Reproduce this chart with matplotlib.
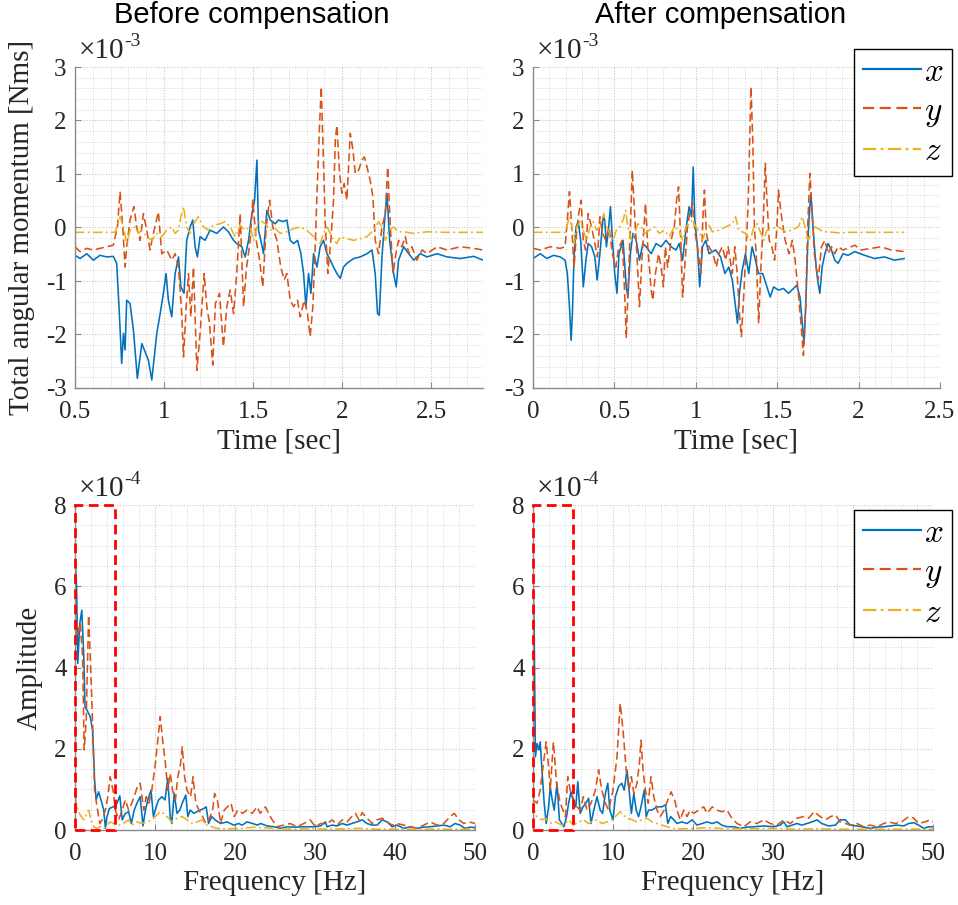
import matplotlib
matplotlib.use("Agg")
import matplotlib.pyplot as plt
from matplotlib.patches import Rectangle
from matplotlib.ticker import MultipleLocator
from matplotlib.font_manager import FontProperties

plt.rcParams['font.family'] = ['Liberation Serif', 'DejaVu Serif']
plt.rcParams['axes.unicode_minus'] = False

C_X = '#0072BD'
C_Y = '#D95319'
C_Z = '#EDB120'

# ---------------- Time histories (angular momentum, units of 1e-3 Nms) ----------------
# Before compensation
t_bx = [0.500, 0.528, 0.566, 0.603, 0.640, 0.678, 0.715, 0.734, 0.749, 0.762, 0.772, 0.781,
        0.790, 0.809, 0.828, 0.850, 0.875, 0.893, 0.912, 0.931, 0.959, 0.978, 0.996, 1.011,
        1.024, 1.043, 1.062, 1.081, 1.094, 1.112, 1.127, 1.146, 1.161, 1.174, 1.187, 1.202,
        1.230, 1.258, 1.296, 1.333, 1.361, 1.390, 1.408, 1.436, 1.455, 1.474, 1.493, 1.508,
        1.521, 1.530, 1.543, 1.558, 1.577, 1.596, 1.624, 1.642, 1.667, 1.689, 1.708, 1.727,
        1.749, 1.768, 1.783, 1.796, 1.811, 1.824, 1.839, 1.858, 1.876, 1.895, 1.914, 1.933,
        1.951, 1.970, 1.989, 2.007, 2.026, 2.064, 2.101, 2.139, 2.167, 2.185, 2.198, 2.208,
        2.223, 2.238, 2.251, 2.266, 2.288, 2.303, 2.316, 2.345, 2.373, 2.401, 2.438, 2.476,
        2.532, 2.588, 2.663, 2.738, 2.790]
h_bx = [-0.52, -0.58, -0.49, -0.61, -0.52, -0.55, -0.54, -0.67, -1.61, -2.54, -1.98, -2.29,
        -1.36, -1.42, -1.92, -2.82, -2.17, -2.32, -2.48, -2.85, -1.98, -1.61, -1.23, -0.86,
        -1.36, -1.67, -0.86, -0.55, -1.11, -1.23, -0.24, 0.01, 0.14, -0.36, -0.55, -0.17,
        -0.24, -0.05, -0.11, 0.01, -0.08, -0.24, -0.30, -0.36, -0.55, -0.24, 0.26, 0.51,
        1.26, -0.05, -0.24, -0.49, 0.32, 0.14, 0.07, 0.14, 0.11, 0.14, -0.24, -0.30,
        -0.24, -0.49, -0.86, -1.48, -0.86, -1.23, -0.49, -0.74, -0.36, -0.24, -0.49, -0.61,
        -0.74, -0.86, -0.95, -0.74, -0.67, -0.58, -0.55, -0.49, -0.42, -0.86, -1.61, -1.64,
        -0.55, 0.14, 0.64, -0.24, -0.86, -1.11, -0.61, -0.36, -0.49, -0.61, -0.49, -0.55,
        -0.49, -0.55, -0.58, -0.54, -0.61]

t_by = [0.500, 0.528, 0.566, 0.603, 0.640, 0.678, 0.715, 0.738, 0.753, 0.768, 0.781, 0.790,
        0.809, 0.831, 0.846, 0.865, 0.884, 0.906, 0.921, 0.940, 0.968, 0.987, 1.015, 1.043,
        1.062, 1.081, 1.099, 1.109, 1.124, 1.137, 1.150, 1.165, 1.184, 1.202, 1.225, 1.240,
        1.255, 1.273, 1.288, 1.311, 1.333, 1.352, 1.371, 1.390, 1.408, 1.427, 1.446, 1.461,
        1.483, 1.498, 1.517, 1.536, 1.554, 1.573, 1.592, 1.610, 1.633, 1.655, 1.674, 1.689,
        1.708, 1.727, 1.749, 1.764, 1.787, 1.805, 1.820, 1.835, 1.848, 1.861, 1.873, 1.882,
        1.891, 1.904, 1.919, 1.936, 1.951, 1.961, 1.970, 1.985, 1.998, 2.011, 2.026, 2.045,
        2.060, 2.073, 2.092, 2.110, 2.124, 2.139, 2.157, 2.172, 2.185, 2.204, 2.223, 2.242,
        2.255, 2.270, 2.285, 2.298, 2.316, 2.335, 2.354, 2.373, 2.391, 2.419, 2.448, 2.476,
        2.532, 2.588, 2.663, 2.738, 2.790]
h_by = [-0.36, -0.45, -0.39, -0.42, -0.39, -0.36, -0.33, 0.01, 0.67, 0.01, -0.74, -0.36,
        0.14, 0.39, 0.01, -0.24, 0.26, -0.11, -0.42, -0.11, 0.29, -0.49, -0.42, -0.61,
        -0.49, -0.74, -1.61, -2.42, -1.48, -0.86, -1.67, -0.74, -2.67, -1.98, -0.86, -1.48,
        -1.79, -2.57, -1.42, -1.23, -2.23, -1.48, -1.17, -1.61, -0.86, 0.26, -1.48, -0.80,
        -0.24, 0.51, -0.24, -0.61, -1.11, 0.01, 0.51, 0.01, -0.24, -0.74, -0.98, -0.86,
        -1.36, -1.48, -1.36, -1.67, -1.36, -1.61, -2.04, -1.48, -0.36, 0.88, 1.94, 2.63,
        1.63, 0.14, -0.86, -0.24, 0.51, 1.63, 1.91, 1.01, 0.64, 0.82, 0.51, 1.76,
        1.45, 1.01, 1.07, 1.26, 1.32, 1.13, 0.88, 0.57, -0.24, -0.49, 0.01, 0.26,
        1.13, 0.01, -0.86, -0.55, -0.24, -0.36, -0.17, -0.49, -0.36, -0.61, -0.42, -0.49,
        -0.36, -0.42, -0.36, -0.39, -0.42]

t_bz = [0.500, 0.725, 0.753, 0.772, 0.790, 0.809, 0.837, 0.856, 0.875, 0.903, 0.931, 0.959,
        0.987, 1.015, 1.043, 1.062, 1.081, 1.094, 1.109, 1.127, 1.146, 1.165, 1.193, 1.221,
        1.249, 1.277, 1.315, 1.343, 1.371, 1.399, 1.427, 1.455, 1.483, 1.502, 1.521, 1.539,
        1.567, 1.596, 1.624, 1.652, 1.689, 1.727, 1.764, 1.801, 1.839, 1.858, 1.876, 1.895,
        1.914, 1.933, 1.951, 1.970, 1.989, 2.026, 2.064, 2.101, 2.139, 2.176, 2.204, 2.223,
        2.242, 2.260, 2.288, 2.316, 2.345, 2.401, 2.476, 2.569, 2.790]
h_bz = [-0.09, -0.09, 0.20, 0.01, -0.30, -0.05, 0.01, -0.11, -0.05, -0.17, -0.24, -0.11,
        -0.17, -0.05, 0.01, -0.11, -0.05, 0.20, 0.39, 0.01, -0.11, 0.07, 0.20, 0.01,
        -0.05, 0.04, 0.07, 0.11, 0.01, -0.17, 0.04, -0.05, 0.01, -0.24, 0.01, 0.14,
        0.07, -0.05, -0.02, -0.11, -0.08, -0.02, 0.01, -0.05, -0.17, -0.24, -0.30, -0.11,
        0.01, -0.11, -0.24, -0.30, -0.17, -0.21, -0.24, -0.21, -0.17, -0.05, 0.11, 0.01,
        -0.24, -0.05, 0.01, -0.08, -0.08, -0.11, -0.08, -0.09, -0.09]

# After compensation
t_ax = [0.000, 0.045, 0.085, 0.126, 0.167, 0.197, 0.211, 0.224, 0.234, 0.242, 0.252, 0.264,
        0.278, 0.293, 0.309, 0.325, 0.339, 0.360, 0.380, 0.394, 0.411, 0.431, 0.441, 0.451,
        0.461, 0.476, 0.488, 0.502, 0.516, 0.528, 0.553, 0.573, 0.583, 0.598, 0.614, 0.634,
        0.654, 0.675, 0.695, 0.726, 0.756, 0.787, 0.817, 0.848, 0.878, 0.898, 0.919, 0.939,
        0.959, 0.974, 0.984, 0.994, 1.010, 1.024, 1.041, 1.061, 1.081, 1.122, 1.152, 1.179,
        1.203, 1.224, 1.244, 1.256, 1.268, 1.285, 1.305, 1.325, 1.346, 1.366, 1.386, 1.411,
        1.437, 1.457, 1.478, 1.508, 1.539, 1.569, 1.600, 1.620, 1.640, 1.654, 1.665, 1.675,
        1.687, 1.697, 1.707, 1.720, 1.732, 1.748, 1.762, 1.776, 1.793, 1.813, 1.833, 1.854,
        1.874, 1.904, 1.935, 1.976, 2.037, 2.098, 2.159, 2.220, 2.280]
h_ax = [-0.58, -0.49, -0.58, -0.52, -0.55, -0.61, -0.86, -1.48, -2.11, -1.61, -0.55, 0.01,
        0.11, -0.24, -1.11, -0.61, -0.30, -0.36, -0.55, -0.98, -0.49, 0.20, 0.14, -0.36,
        -0.11, 0.39, -0.24, -0.86, -1.23, -0.49, -0.24, -1.11, -1.30, -0.49, -0.11, -0.24,
        -0.61, -0.30, -0.36, -0.49, -0.30, -0.36, -0.24, -0.36, -0.42, -0.30, -0.61, -0.05,
        0.39, 0.20, 1.13, 0.14, -0.36, -1.11, -0.36, -0.24, -0.49, -0.42, -0.55, -0.86,
        -0.74, -0.98, -1.48, -1.79, -1.23, -0.80, -0.49, -0.86, -0.36, -0.61, -0.86, -0.86,
        -1.11, -1.30, -1.11, -1.17, -1.14, -1.23, -1.14, -1.08, -1.30, -1.79, -2.17, -1.48,
        -0.36, 0.26, 0.64, 0.01, -0.49, -0.98, -1.23, -0.74, -0.49, -0.30, -0.42, -0.61,
        -0.67, -0.49, -0.52, -0.45, -0.52, -0.58, -0.55, -0.61, -0.58]

t_ay = [0.000, 0.045, 0.106, 0.167, 0.197, 0.211, 0.224, 0.238, 0.252, 0.264, 0.278, 0.295,
        0.309, 0.323, 0.339, 0.360, 0.380, 0.396, 0.411, 0.427, 0.447, 0.467, 0.488, 0.508,
        0.528, 0.549, 0.563, 0.573, 0.583, 0.598, 0.610, 0.624, 0.638, 0.654, 0.671, 0.691,
        0.705, 0.726, 0.736, 0.752, 0.772, 0.787, 0.801, 0.813, 0.827, 0.848, 0.868, 0.882,
        0.894, 0.909, 0.919, 0.929, 0.949, 0.963, 0.980, 0.996, 1.010, 1.030, 1.045, 1.053,
        1.065, 1.081, 1.106, 1.126, 1.142, 1.163, 1.183, 1.199, 1.224, 1.240, 1.254, 1.268,
        1.280, 1.295, 1.309, 1.321, 1.331, 1.339, 1.350, 1.360, 1.372, 1.386, 1.398, 1.413,
        1.427, 1.437, 1.451, 1.467, 1.484, 1.498, 1.508, 1.524, 1.549, 1.573, 1.593, 1.610,
        1.630, 1.646, 1.661, 1.675, 1.687, 1.701, 1.715, 1.728, 1.742, 1.752, 1.772, 1.793,
        1.813, 1.833, 1.854, 1.874, 1.904, 1.935, 1.976, 2.016, 2.077, 2.138, 2.199, 2.280]
h_ay = [-0.39, -0.42, -0.36, -0.39, -0.36, 0.14, 0.67, 0.01, -0.74, -0.24, 0.20, 0.51,
        -0.24, -0.42, 0.26, 0.01, -0.30, -0.55, 0.20, -0.11, -0.24, 0.01, -0.49, -0.74,
        -0.36, -0.24, -1.23, -2.07, -1.23, 0.01, 1.07, 0.26, -0.49, -1.48, -0.49, 0.45,
        -0.36, -1.17, -1.36, -0.86, -0.49, -0.74, -1.11, -0.36, -0.74, -0.24, 0.01, 0.51,
        0.76, -0.36, -1.30, -0.86, 0.01, 0.26, 0.45, -0.11, -0.36, -0.86, 0.26, 0.70,
        -0.11, -0.36, -0.49, -0.74, -0.49, -0.36, -0.61, -0.36, -0.86, -0.36, -0.86, -1.61,
        -2.04, -1.23, -0.36, 0.39, 1.63, 2.63, 1.63, 0.01, -0.55, -1.79, -0.86, 0.01,
        1.20, 0.51, -0.24, -0.36, -0.61, 0.01, 0.70, 0.26, -0.24, -0.49, -0.24, -0.61,
        -1.23, -1.79, -2.39, -1.48, 0.01, 1.01, 0.26, -0.49, -0.80, -0.98, -0.36, -0.24,
        -0.49, -0.36, -0.49, -0.36, -0.42, -0.39, -0.33, -0.42, -0.39, -0.36, -0.42, -0.45]

t_az = [0.000, 0.197, 0.207, 0.224, 0.238, 0.252, 0.268, 0.289, 0.309, 0.329, 0.350, 0.370,
        0.390, 0.411, 0.435, 0.451, 0.472, 0.492, 0.512, 0.533, 0.553, 0.569, 0.583, 0.604,
        0.624, 0.644, 0.665, 0.685, 0.715, 0.746, 0.776, 0.807, 0.837, 0.868, 0.898, 0.919,
        0.939, 0.959, 0.980, 1.000, 1.020, 1.041, 1.061, 1.081, 1.102, 1.142, 1.183, 1.224,
        1.244, 1.264, 1.305, 1.335, 1.356, 1.376, 1.396, 1.417, 1.437, 1.467, 1.508, 1.549,
        1.589, 1.630, 1.654, 1.671, 1.691, 1.711, 1.732, 1.752, 1.783, 1.813, 1.874, 1.955,
        2.280]
h_az = [-0.09, -0.09, 0.01, 0.20, 0.04, -0.30, 0.01, 0.11, -0.05, -0.24, 0.01, 0.11,
        -0.05, 0.01, 0.26, 0.01, -0.11, -0.24, -0.05, 0.01, 0.14, 0.32, 0.01, -0.24,
        -0.11, 0.07, 0.01, -0.11, -0.05, 0.01, -0.11, -0.05, -0.17, 0.01, -0.05, -0.24,
        0.01, 0.07, 0.14, 0.01, -0.08, -0.24, -0.05, 0.04, -0.08, -0.05, 0.01, 0.07,
        0.20, -0.05, -0.11, -0.24, 0.01, 0.07, -0.08, -0.24, -0.05, -0.02, 0.01, -0.08,
        -0.05, 0.01, 0.20, 0.01, -0.24, -0.11, 0.01, -0.02, -0.08, -0.08, -0.10, -0.09,
        -0.09]

# ---------------- Amplitude spectra (units of 1e-4) ----------------
# Before compensation
f_bx = [0.0, 0.2, 0.35, 0.6, 0.85, 1.1, 1.25, 1.5, 1.9, 2.2, 2.45, 2.65, 2.95, 3.25, 3.6, 3.8,
        4.0, 4.3, 4.8, 5.25, 5.6, 5.9, 6.3, 6.7, 7.05, 7.4, 7.75, 8.15, 8.5, 8.8, 9.1, 9.5,
        9.8, 10.15, 10.45, 10.85, 11.25, 11.6, 11.9, 12.1, 12.4, 12.75, 13.1, 13.4, 13.85, 14.1,
        14.4, 14.85, 15.25, 15.65, 16.1, 16.4, 16.7, 17.1, 17.5, 18.2, 19.0, 19.85, 20.45, 20.9,
        21.5, 22.2, 22.8, 23.2, 24.0, 24.85, 25.7, 26.5, 27.35, 28.6, 29.85, 30.7, 31.3, 31.5,
        32.15, 32.75, 33.4, 34.0, 34.6, 35.25, 35.9, 36.5, 37.15, 37.75, 38.4, 39.0, 39.65, 40.25,
        41.1, 41.9, 42.75, 43.6, 44.4, 45.25, 46.1, 46.9, 47.5, 48.15, 48.75, 49.4, 50.0]
a_bx = [6.73, 5.99, 4.10, 5.09, 5.41, 4.27, 3.03, 2.95, 2.79, 2.46, 1.23, 0.74, 0.94, 0.74, 0.49, 0.04,
        0.33, 0.53, 0.57, 0.66, 0.84, 0.25, 0.41, 0.45, 0.16, 0.49, 0.66, 0.82, 0.10, 0.49, 0.74, 0.98,
        0.33, 0.57, 0.74, 0.82, 0.74, 1.27, 0.33, 0.16, 0.90, 0.41, 0.49, 0.66, 0.86, 0.33,
        0.49, 0.41, 0.45, 0.49, 0.53, 0.57, 0.16, 0.33, 0.25, 0.16, 0.20, 0.12, 0.16, 0.12,
        0.20, 0.16, 0.12, 0.16, 0.10, 0.08, 0.04, 0.08, 0.07, 0.08, 0.08, 0.10, 0.20, 0.08,
        0.12, 0.10, 0.16, 0.12, 0.16, 0.20, 0.25, 0.16, 0.12, 0.12, 0.25, 0.20, 0.08, 0.12,
        0.04, 0.08, 0.04, 0.07, 0.08, 0.10, 0.12, 0.08, 0.16, 0.12, 0.04, 0.07, 0.06]

f_by = [0.0, 0.2, 0.4, 0.65, 0.95, 1.15, 1.4, 1.7, 2.0, 2.2, 2.45, 2.75, 3.1, 3.4, 3.8, 4.1,
        4.4, 4.75, 5.05, 5.45, 5.9, 6.3, 6.7, 7.1, 7.4, 7.8, 8.15, 8.6, 8.9, 9.25, 9.6, 10.05,
        10.35, 10.65, 11.0, 11.3, 11.6, 11.9, 12.2, 12.55, 12.85, 13.2, 13.4, 13.7, 14.0, 14.45,
        14.75, 15.1, 15.5, 15.95, 16.35, 16.75, 17.2, 17.45, 17.8, 18.2, 18.65, 19.05, 19.5, 19.9,
        20.35, 20.95, 21.5, 22.15, 22.75, 23.15, 23.8, 24.2, 24.65, 25.25, 26.1, 26.9, 27.75, 28.6,
        29.4, 30.05, 30.7, 31.5, 32.15, 32.75, 33.4, 34.0, 34.6, 35.05, 35.5, 35.9, 36.5, 37.15,
        37.75, 38.4, 39.0, 39.65, 40.25, 41.1, 41.9, 42.75, 43.6, 44.4, 45.25, 46.1, 46.9, 47.4,
        48.0, 48.6, 49.25, 50.0]
a_by = [4.43, 5.09, 4.84, 5.09, 4.27, 1.97, 2.71, 5.29, 3.77, 2.63, 0.98, 0.57, 0.16, 0.25, 0.49, 0.82,
        1.31, 0.98, 0.49, 0.25, 0.49, 0.74, 0.49, 0.66, 0.82, 1.07, 1.15, 0.49, 0.82, 0.66, 0.98, 1.64,
        2.21, 2.79, 2.13, 1.64, 0.98, 1.39, 0.98, 0.74, 1.31, 1.64, 2.05, 1.31, 0.98, 0.82,
        1.31, 0.66, 0.49, 0.33, 0.16, 0.25, 0.49, 0.90, 0.74, 0.16, 0.49, 0.57, 0.66, 0.33,
        0.49, 0.41, 0.49, 0.41, 0.57, 0.41, 0.57, 0.41, 0.25, 0.08, 0.12, 0.16, 0.08, 0.16,
        0.25, 0.08, 0.16, 0.16, 0.25, 0.12, 0.25, 0.20, 0.33, 0.41, 0.25, 0.43, 0.29, 0.16,
        0.25, 0.29, 0.20, 0.12, 0.16, 0.12, 0.08, 0.04, 0.12, 0.20, 0.12, 0.16, 0.33, 0.41,
        0.25, 0.16, 0.20, 0.16]

f_bz = [0.0, 0.25, 0.65, 1.1, 1.4, 1.7, 2.0, 2.35, 2.75, 3.2, 3.6, 4.0, 4.4, 4.8, 5.45, 6.05,
        6.7, 7.1, 7.75, 8.35, 9.0, 9.6, 10.25, 10.65, 11.1, 11.5, 12.1, 12.75, 13.4, 14.0, 14.6,
        15.25, 15.9, 16.5, 17.1, 17.75, 19.0, 20.7, 22.35, 24.0, 25.65, 27.35, 29.85, 31.5, 33.6,
        35.65, 37.75, 39.8, 44.0, 50.0]
a_bz = [0.86, 0.57, 0.37, 0.25, 0.37, 0.49, 0.25, 0.08, 0.04, 0.08, 0.04, 0.12, 0.20, 0.16, 0.12, 0.16,
        0.25, 0.12, 0.20, 0.16, 0.20, 0.25, 0.37, 0.45, 0.41, 0.33, 0.20, 0.29, 0.33, 0.25, 0.16,
        0.20, 0.25, 0.12, 0.08, 0.04, 0.03, 0.04, 0.07, 0.05, 0.03, 0.02, 0.04, 0.02, 0.03,
        0.04, 0.02, 0.02, 0.02, 0.02]

# After compensation
f_ax = [0.0, 0.15, 0.3, 0.5, 0.75, 0.9, 1.15, 1.4, 1.65, 1.95, 2.15, 2.4, 2.65, 3.0, 3.3, 3.6,
        3.85, 4.2, 4.45, 4.75, 5.0, 5.35, 5.6, 5.9, 6.25, 6.6, 6.95, 7.25, 7.6, 8.0, 8.4, 8.7,
        9.05, 9.35, 9.6, 10.0, 10.3, 10.7, 11.1, 11.4, 11.75, 12.05, 12.3, 12.6, 12.9, 13.2,
        13.5, 13.9, 14.15, 14.45, 14.85, 15.5, 16.1, 16.55, 16.85, 17.2, 17.6, 18.0, 18.6, 19.25,
        19.9, 20.5, 21.15, 21.75, 22.4, 23.0, 23.6, 24.25, 25.1, 25.9, 26.75, 27.6, 28.85, 30.1,
        30.9, 31.35, 31.75, 32.4, 33.0, 33.6, 34.25, 34.9, 35.5, 36.1, 36.95, 37.8, 38.4, 39.05,
        39.65, 40.5, 41.35, 42.15, 43.0, 43.85, 44.65, 45.5, 46.35, 46.95, 47.6, 48.2, 48.85, 49.5,
        50.0]
a_ax = [6.20, 4.92, 1.80, 2.13, 1.97, 2.17, 1.39, 0.66, 0.16, 0.57, 1.07, 0.74, 0.49, 1.15, 0.25, 0.16,
        0.08, 0.33, 0.66, 0.94, 0.74, 0.57, 1.19, 0.41, 0.57, 0.66, 0.78, 0.16, 0.49, 0.82, 0.49, 0.41,
        0.90, 1.15, 0.49, 0.25, 0.82, 1.07, 1.15, 0.98, 1.48, 0.90, 0.41, 0.90, 0.49, 0.33,
        0.57, 0.98, 0.33, 0.49, 0.49, 0.57, 0.57, 0.62, 0.16, 0.33, 0.25, 0.16, 0.20, 0.16,
        0.25, 0.12, 0.16, 0.20, 0.16, 0.20, 0.12, 0.08, 0.08, 0.04, 0.07, 0.08, 0.10, 0.08,
        0.12, 0.20, 0.08, 0.12, 0.16, 0.12, 0.16, 0.20, 0.25, 0.16, 0.10, 0.12, 0.25, 0.25,
        0.12, 0.10, 0.07, 0.04, 0.07, 0.08, 0.10, 0.12, 0.10, 0.16, 0.18, 0.12, 0.04, 0.08,
        0.08]

f_ay = [0.0, 0.5, 0.9, 1.3, 1.65, 1.95, 2.15, 2.55, 2.95, 3.4, 3.75, 4.05, 4.35, 4.65, 5.1, 5.5,
        5.9, 6.3, 6.75, 7.25, 7.8, 8.2, 8.6, 9.05, 9.45, 10.0, 10.5, 10.9, 11.25, 11.65, 12.0, 12.3,
        12.6, 13.0, 13.3, 13.5, 13.75, 14.05, 14.4, 14.75, 15.1, 15.5, 15.9, 16.4, 16.85, 17.25,
        17.7, 18.0, 18.4, 18.85, 19.25, 19.65, 20.1, 20.7, 21.35, 21.75, 22.4, 23.0, 23.6, 24.25,
        24.85, 25.5, 26.35, 27.15, 28.0, 28.85, 29.65, 30.5, 31.35, 32.15, 33.0, 33.85, 34.45, 35.15,
        35.9, 36.55, 37.2, 37.8, 38.4, 39.05, 39.65, 40.5, 41.35, 42.15, 43.0, 43.85, 44.45, 45.3,
        46.1, 46.95, 47.6, 48.2, 49.0, 49.6, 50.0]
a_ay = [0.74, 0.66, 0.98, 1.64, 2.17, 1.56, 0.98, 2.17, 1.15, 0.66, 0.49, 0.33, 1.31, 0.98, 0.74, 0.57,
        0.49, 0.82, 0.49, 0.66, 0.98, 1.48, 0.98, 0.66, 0.49, 0.98, 1.80, 3.12, 2.46, 1.48, 0.98, 1.31,
        0.90, 1.15, 1.64, 2.21, 1.48, 0.98, 0.66, 1.31, 0.82, 0.49, 0.33, 0.49, 0.74, 0.94,
        0.74, 0.49, 0.25, 0.49, 0.33, 0.49, 0.41, 0.49, 0.57, 0.41, 0.57, 0.49, 0.45, 0.49,
        0.29, 0.16, 0.08, 0.20, 0.16, 0.25, 0.16, 0.12, 0.25, 0.16, 0.29, 0.33, 0.29, 0.45,
        0.33, 0.25, 0.33, 0.37, 0.20, 0.16, 0.12, 0.16, 0.08, 0.12, 0.08, 0.16, 0.20, 0.16,
        0.20, 0.33, 0.29, 0.16, 0.20, 0.25, 0.20]

f_az = [0.0, 0.3, 0.7, 1.1, 1.55, 1.95, 2.4, 2.8, 3.2, 3.6, 4.0, 4.45, 5.05, 5.7, 6.3, 6.95,
        7.35, 7.95, 8.6, 9.25, 9.85, 10.5, 10.9, 11.3, 11.75, 12.4, 13.0, 13.6, 14.25, 14.9, 15.5,
        16.1, 16.75, 17.6, 18.4, 20.1, 21.75, 23.4, 25.5, 27.6, 30.1, 32.6, 35.1, 38.0, 42.1, 50.0]
a_az = [0.66, 0.37, 0.29, 0.25, 0.29, 0.20, 0.16, 0.20, 0.16, 0.12, 0.16, 0.25, 0.12, 0.20, 0.25, 0.16,
        0.20, 0.25, 0.16, 0.20, 0.25, 0.37, 0.45, 0.37, 0.29, 0.25, 0.20, 0.25, 0.29, 0.20, 0.16,
        0.12, 0.08, 0.04, 0.03, 0.04, 0.06, 0.04, 0.03, 0.03, 0.04, 0.02, 0.03, 0.02, 0.02, 0.02]

titles = ['Before compensation', 'After compensation']
series_labels = ['$x$', '$y$', '$z$']

# ---------------- Figure layout (pixel boxes) ----------------
W, H = 958, 905
fig = plt.figure(figsize=(W / 100, H / 100), dpi=100)


def axes_box(left, top, right, bottom):
    return fig.add_axes([left / W, 1 - bottom / H, (right - left) / W, (bottom - top) / H])


ax_tl = axes_box(75, 67, 483, 388)
ax_tr = axes_box(533, 67, 940, 388)
ax_bl = axes_box(75, 505, 475, 830)
ax_br = axes_box(533, 505, 933, 830)

TICK_FS = 18
LABEL_FS = 21
AX_COLOR = '#8a8a8a'
TXT_COLOR = '#262626'
SERIF = ['Liberation Serif', 'DejaVu Serif']


def style_axes(ax):
    for side in ('top', 'right'):
        ax.spines[side].set_visible(False)
    for side in ('left', 'bottom'):
        ax.spines[side].set_color(AX_COLOR)
        ax.spines[side].set_linewidth(1.0)
    ax.tick_params(which='major', direction='in', length=4, width=0.8, color=AX_COLOR,
                   labelsize=TICK_FS, labelcolor=TXT_COLOR, pad=6)
    ax.tick_params(axis='x', which='major', pad=9)
    ax.tick_params(which='minor', length=0)
    ax.grid(True, which='major', color='#c8c8c8', linestyle=(0, (1, 1.5)), linewidth=0.8)
    ax.grid(True, which='minor', color='#d8d8d8', linestyle=(0, (1, 1.5)), linewidth=0.7)
    ax.set_axisbelow(True)


def exponent_label(ax, exp_text):
    base = ax.text(0.008, 1.008, '\u00d710', transform=ax.transAxes, fontsize=21,
                   family=SERIF, color=TXT_COLOR, ha='left', va='bottom')
    ax.annotate(exp_text, xy=(1, 1), xycoords=base, xytext=(0.5, 4),
                textcoords='offset points', fontsize=14, family=SERIF,
                color=TXT_COLOR, ha='left', va='top')


LW = 1.15
DASH = (0, (5, 2.5))
DASHDOT = (0, (6, 2, 1.2, 2))


def draw_series(ax, sx, sy, sz):
    ax.plot(sx[0], sx[1], color=C_X, lw=LW, label=series_labels[0])
    ax.plot(sy[0], sy[1], color=C_Y, lw=LW, ls=DASH, label=series_labels[1])
    ax.plot(sz[0], sz[1], color=C_Z, lw=LW, ls=DASHDOT, label=series_labels[2])


time_sets = [
    (ax_tl, (t_bx, h_bx), (t_by, h_by), (t_bz, h_bz), (0.5, 2.79), [0.5, 1, 1.5, 2, 2.5]),
    (ax_tr, (t_ax, h_ax), (t_ay, h_ay), (t_az, h_az), (0.0, 2.5), [0, 0.5, 1, 1.5, 2, 2.5]),
]
for ax, sx, sy, sz, xlim, xt in time_sets:
    style_axes(ax)
    draw_series(ax, sx, sy, sz)
    ax.set_xlim(*xlim)
    ax.set_ylim(-3, 3)
    ax.set_xticks(xt)
    ax.set_xticklabels([f'{v:g}' for v in xt])
    ax.set_yticks(range(-3, 4))
    ax.xaxis.set_minor_locator(MultipleLocator(0.1))
    ax.yaxis.set_minor_locator(MultipleLocator(0.2))
    ax.set_xlabel('Time [sec]', fontsize=LABEL_FS, color=TXT_COLOR, labelpad=4)
    exponent_label(ax, '-3')

freq_sets = [
    (ax_bl, (f_bx, a_bx), (f_by, a_by), (f_bz, a_bz)),
    (ax_br, (f_ax, a_ax), (f_ay, a_ay), (f_az, a_az)),
]
for ax, sx, sy, sz in freq_sets:
    style_axes(ax)
    draw_series(ax, sx, sy, sz)
    ax.set_xlim(0, 50)
    ax.set_ylim(0, 8)
    ax.set_xticks(range(0, 51, 10))
    ax.set_yticks(range(0, 9, 2))
    ax.xaxis.set_minor_locator(MultipleLocator(2))
    ax.yaxis.set_minor_locator(MultipleLocator(0.5))
    ax.set_xlabel('Frequency [Hz]', fontsize=LABEL_FS, color=TXT_COLOR, labelpad=4)
    exponent_label(ax, '-4')
    # low-frequency band highlight (0-5 Hz)
    ax.add_patch(Rectangle((0, 0), 5, 8, fill=False, edgecolor='#ff0000', lw=2.0,
                           ls=(0, (3.5, 2)), clip_on=False, zorder=5))

ax_tl.set_ylabel('Total angular momentum [Nms]', fontsize=LABEL_FS, color=TXT_COLOR, labelpad=8)
ax_bl.set_ylabel('Amplitude', fontsize=LABEL_FS, color=TXT_COLOR, labelpad=8)

SANS = ['Liberation Sans', 'DejaVu Sans']
fig.text(252 / W, 1 - 23 / H, titles[0], fontsize=21, family=SANS,
         ha='center', va='baseline', color='black')
fig.text(721 / W, 1 - 23 / H, titles[1], fontsize=21, family=SANS,
         ha='center', va='baseline', color='black')

leg_prop = FontProperties(size=24, math_fontfamily='cm')
for ax, top in ((ax_tr, 49), (ax_br, 510)):
    leg = ax.legend(loc='upper right', bbox_to_anchor=(952 / W, 1 - top / H),
                    bbox_transform=fig.transFigure, borderaxespad=0, prop=leg_prop,
                    handlelength=1.75, handletextpad=0.1, labelspacing=0.25,
                    borderpad=0.25, fancybox=False, framealpha=1, edgecolor='black')
    leg.get_frame().set_linewidth(1.0)
    for line in leg.get_lines():
        line.set_linewidth(1.6)

fig.savefig('out.png', dpi=100)
